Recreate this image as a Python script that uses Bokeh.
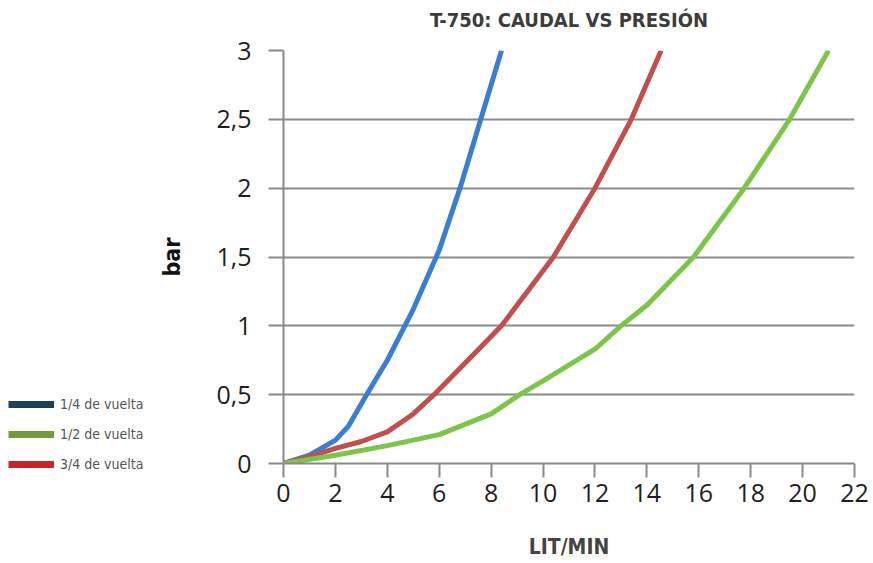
from bokeh.plotting import figure
from bokeh.layouts import row, column
from bokeh.models import Range1d, FixedTicker, Legend, LegendItem, LinearAxis
from bokeh.embed import file_html
from bokeh.resources import INLINE

# ---- data ----
title_text = "T-750: CAUDAL VS PRESIÓN"
x_label = "LIT/MIN"
y_label = "bar"

x_ticks = [0, 2, 4, 6, 8, 10, 12, 14, 16, 18, 20, 22]
y_ticks = [0, 0.5, 1, 1.5, 2, 2.5, 3]
y_tick_labels = ["0", "0,5", "1", "1,5", "2", "2,5", "3"]

series_names = ["1/4 de vuelta", "1/2 de vuelta", "3/4 de vuelta"]
legend_colors = ["#1d3f5e", "#75983e", "#c1272d"]

quarter_x = [0, 1, 2, 2.5, 3.2, 4, 5, 6, 6.8, 7.6, 8.4]
quarter_y = [0, 0.06, 0.17, 0.27, 0.5, 0.75, 1.12, 1.55, 2.0, 2.5, 3.0]

half_x = [0, 2, 4, 6, 8, 9.1, 10, 12, 13, 14, 15.8, 17.75, 19.5, 21.0]
half_y = [0, 0.06, 0.13, 0.21, 0.36, 0.5, 0.6, 0.83, 1.0, 1.15, 1.5, 2.0, 2.5, 3.0]

three_q_x = [0, 1, 2, 3, 4, 5, 5.8, 7, 8.4, 10.4, 12, 13.4, 14.55]
three_q_y = [0, 0.05, 0.11, 0.16, 0.23, 0.36, 0.5, 0.73, 1.0, 1.5, 2.0, 2.5, 3.0]

line_colors = ["#3b7dd0", "#7cc54a", "#c0504d"]

COND = "DejaVu Sans Condensed"
TICKF = "Open Sans"

LEG_W = 150
TOTAL_W, TOTAL_H = 873, 563

# ---- main chart ----
p = figure(width=TOTAL_W - LEG_W, height=TOTAL_H, output_backend="svg", toolbar_location=None,
           x_range=Range1d(0, 22), y_range=Range1d(0, 3),
           min_border_left=283 - LEG_W, min_border_right=19, min_border_top=50, min_border_bottom=100)
p.title = None
p.outline_line_color = None
p.background_fill_color = "white"
p.border_fill_color = "white"

x_axis = p.below[0]
y_axis = p.left[0]

for ax in (x_axis, y_axis):
    ax.axis_line_color = "#8a8a8a"
    ax.axis_line_width = 2
    ax.major_tick_line_color = "#8a8a8a"
    ax.major_tick_line_width = 2
    ax.major_tick_in = 0
    ax.minor_tick_line_color = None
    ax.major_label_text_font = TICKF
    ax.major_label_text_font_size = "25px"
    ax.major_label_text_color = "#1e1e1e"
    ax.axis_label_text_font = COND
    ax.axis_label_text_font_style = "bold"

x_axis.ticker = FixedTicker(ticks=x_ticks)
x_axis.major_tick_out = 14
x_axis.major_label_standoff = 6
x_axis.axis_label = x_label
x_axis.axis_label_text_font_size = "21px"
x_axis.axis_label_text_color = "#444444"
x_axis.axis_label_standoff = 30

y_axis.ticker = FixedTicker(ticks=y_ticks)
y_axis.major_label_overrides = {t: s for t, s in zip(y_ticks, y_tick_labels)}
y_axis.major_tick_out = 15
y_axis.major_label_standoff = 17
y_axis.axis_label = y_label
y_axis.axis_label_text_font_size = "23px"
y_axis.axis_label_text_color = "#111111"
y_axis.axis_label_standoff = 28

# chart title carried by an empty axis above the frame
top_axis = LinearAxis(ticker=FixedTicker(ticks=[]), axis_line_color=None,
                      major_tick_line_color=None, minor_tick_line_color=None,
                      major_tick_out=0, major_tick_in=0, major_label_text_font_size="0px",
                      axis_label=title_text, axis_label_standoff=19,
                      axis_label_text_font=COND, axis_label_text_font_style="bold",
                      axis_label_text_font_size="20px", axis_label_text_color="#3c3c3c")
p.add_layout(top_axis, "above")

p.xgrid.grid_line_color = None
p.ygrid.grid_line_color = "#8a8a8a"
p.ygrid.grid_line_width = 2

p.line(quarter_x, quarter_y, line_color=line_colors[0], line_width=5, line_join="round")
p.line(three_q_x, three_q_y, line_color=line_colors[2], line_width=5, line_join="round")
p.line(half_x, half_y, line_color=line_colors[1], line_width=5, line_join="round")

# ---- legend panel (swatch colours differ from the curves in the original) ----
pl = figure(width=LEG_W, height=TOTAL_H, output_backend="svg", toolbar_location=None,
            x_axis_type=None, y_axis_type=None, min_border=0,
            x_range=Range1d(0, 22), y_range=Range1d(0, 3))
pl.outline_line_color = None
pl.background_fill_color = "white"
pl.border_fill_color = "white"

series_data = [(quarter_x, quarter_y), (half_x, half_y), (three_q_x, three_q_y)]
items = []
for name, col, (xs, ys) in zip(series_names, legend_colors, series_data):
    r = pl.line(xs, ys, line_color=col, line_width=7, visible=False)
    items.append(LegendItem(label=name, renderers=[r]))
legend = Legend(items=items, location=(8, 91),
                background_fill_alpha=0, border_line_color=None,
                inactive_fill_alpha=0,
                glyph_width=46, glyph_height=14, label_height=14,
                label_standoff=6, spacing=14, padding=0, margin=0,
                label_text_font=COND, label_text_font_size="14px",
                label_text_color="#555555")
pl.add_layout(legend, "center")

open("out.html", "w").write(file_html(row(column(pl), p), INLINE))
